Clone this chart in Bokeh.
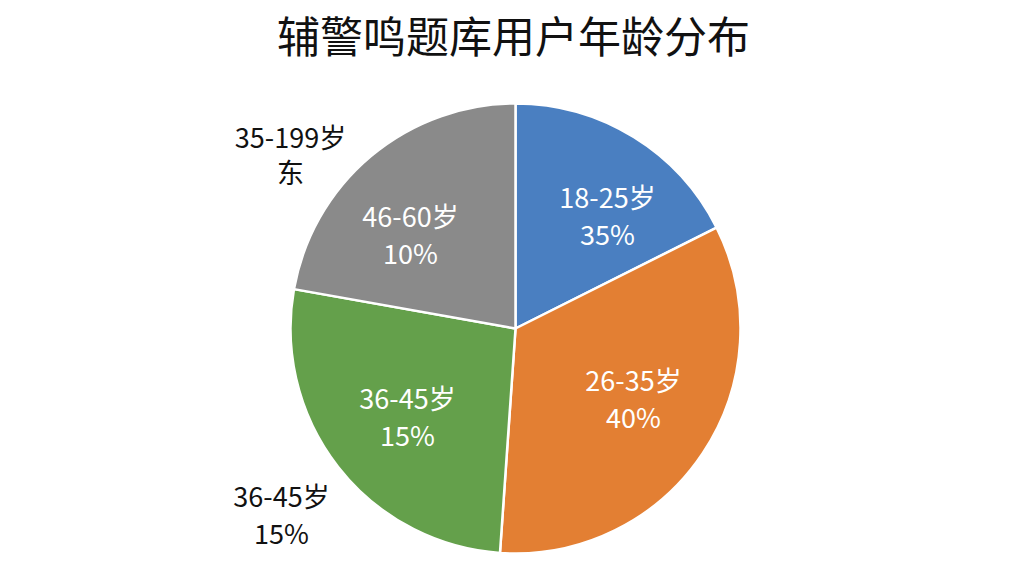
import math
from bokeh.plotting import figure
from bokeh.models import ColumnDataSource, Range1d
from bokeh.core.properties import value
from bokeh.embed import file_html
from bokeh.resources import INLINE

# ---- data ----
categories = ["18-25岁", "26-35岁", "36-45岁", "46-60岁"]
slice_share = [17.6, 33.5, 26.7, 22.2]          # angular share of each slice as drawn
pct_labels = ["35%", "40%", "15%", "10%"]          # printed percentage texts
colors = ["#4a7fc1", "#e37f33", "#64a04b", "#8a8a8a"]
outside_texts = [["35-199岁", "东"], ["36-45岁", "15%"]]
title_text = "辅警鸣题库用户年龄分布"

# ---- layout (screen pixels of the page) ----
W, H = 1008, 560
def sx(X): return X
def sy(Y): return H - Y

CX, CY, R = sx(515), sy(328), 225
label_centers = [(607, 214), (633, 397), (407, 415), (410, 233)]
outside_centers = [(290, 136, 171), (281, 495, 532)]
FONT = value("Noto Sans CJK SC")

p = figure(width=W, height=H, output_backend="svg", toolbar_location=None,
           x_range=Range1d(0, W), y_range=Range1d(0, H), min_border=0,
           outline_line_color=None)
p.axis.visible = False
p.grid.visible = False
p.background_fill_color = "white"
p.border_fill_color = "white"

total = sum(slice_share)
starts, ends = [], []
cum = 0.0
for v in slice_share:
    a0 = math.pi / 2 - cum / total * 2 * math.pi
    cum += v
    a1 = math.pi / 2 - cum / total * 2 * math.pi
    starts.append(a1)
    ends.append(a0)

src = ColumnDataSource(dict(x=[CX] * 4, y=[CY] * 4, start=starts, end=ends,
                            color=colors, cat=categories))
p.wedge(x="x", y="y", radius=R, start_angle="start", end_angle="end",
        fill_color="color", line_color="white", line_width=2.5, source=src)

# inside labels
lx, ly, lt = [], [], []
for (X, Y), cat, pct in zip(label_centers, categories, pct_labels):
    lx += [sx(X), sx(X)]
    ly += [sy(Y - 18), sy(Y + 19)]
    lt += [cat, pct]
p.text(x=lx, y=ly, text=lt, text_color="white", text_font=FONT,
       text_font_size="27px", text_align="center", text_baseline="middle")

# outside labels
ox, oy, ot = [], [], []
for (X, Y1, Y2), lines in zip(outside_centers, outside_texts):
    ox += [sx(X), sx(X)]
    oy += [sy(Y1), sy(Y2)]
    ot += lines
p.text(x=ox, y=oy, text=ot, text_color="#111111", text_font=FONT,
       text_font_size="27px", text_align="center", text_baseline="middle")

# title
p.text(x=[sx(513)], y=[sy(33)], text=[title_text], text_color="#111111",
       text_font=FONT, text_font_size="43px", text_align="center",
       text_baseline="middle")

open("out.html", "w").write(file_html(p, INLINE))
